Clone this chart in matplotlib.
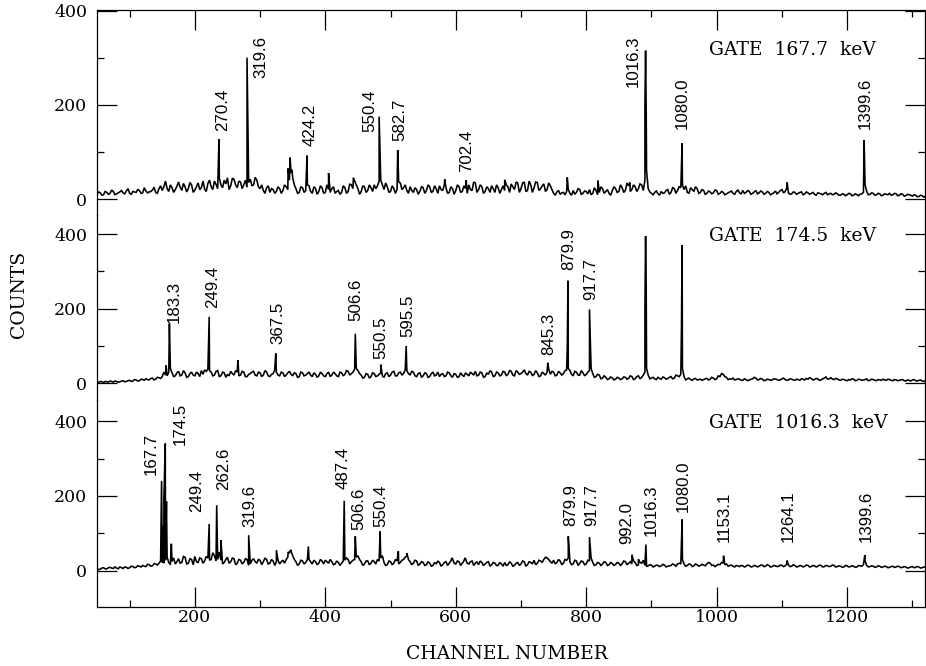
import numpy as np
import matplotlib
matplotlib.use("Agg")
import matplotlib.pyplot as plt
from matplotlib.ticker import FixedLocator

# ---------------- data ----------------
# background counts sampled every 5 channels (50..1320) and the in-between
# channels (52.5..1317.5)
bg_channels = np.arange(50, 1321, 5)
half_channels = np.arange(52.5, 1320, 5)

bg_top = [
    10, 13, 9, 14, 12, 16, 11, 15, 13, 17, 12, 16, 14, 18, 13, 17, 15, 19, 14, 22,
    18, 38, 16, 24, 20, 36, 18, 26, 22, 30, 19, 34, 24, 21, 33, 26, 38, 22, 30, 40,
    45, 28, 42, 24, 36, 30, 25, 42, 30, 40, 22, 18, 24, 14, 20, 16, 22, 18, 26, 40,
    45, 22, 14, 24, 18, 28, 12, 22, 16, 24, 14, 20, 22, 12, 18, 14, 24, 16, 30, 38,
    22, 16, 26, 18, 24, 30, 28, 40, 20, 26, 16, 22, 20, 34, 24, 18, 26, 14, 20, 16,
    24, 18, 26, 16, 22, 28, 18, 24, 14, 22, 18, 26, 16, 22, 30, 18, 34, 20, 26, 16,
    22, 28, 14, 24, 20, 18, 26, 32, 20, 34, 22, 36, 18, 30, 24, 35, 22, 32, 20, 28,
    12, 15, 10, 14, 16, 12, 18, 14, 20, 12, 16, 20, 12, 18, 14, 22, 16, 12, 18, 22,
    16, 24, 18, 28, 20, 26, 22, 30, 40, 22, 12, 14, 11, 16, 13, 20, 14, 22, 18, 24,
    20, 14, 24, 16, 22, 14, 18, 12, 15, 13, 18, 12, 14, 11, 15, 12, 16, 13, 18, 14,
    16, 12, 18, 13, 15, 12, 14, 11, 17, 14, 20, 16, 13, 11, 14, 12, 15, 11, 13, 12,
    10, 13, 11, 12, 9, 12, 10, 11, 8, 10, 9, 11, 8, 9, 10, 14, 16, 10, 12, 9,
    11, 8, 10, 12, 9, 11, 8, 10, 7, 9, 6, 8, 5, 7, 6,
]
bg_top_half = [
    15, 8, 16, 10, 19, 9, 13, 18, 11, 22, 10, 15, 20, 12, 24, 13, 16, 25, 12, 28,
    26, 22, 30, 14, 27, 25, 33, 15, 35, 14, 26, 20, 38, 16, 40, 20, 31, 45, 24, 32,
    20, 44, 30, 38, 22, 40, 35, 28, 46, 26, 30, 12, 28, 22, 12, 26, 12, 30, 20, 55,
    30, 12, 26, 14, 30, 16, 26, 10, 28, 12, 30, 14, 26, 16, 10, 28, 12, 32, 22, 30,
    10, 28, 14, 30, 16, 22, 38, 30, 34, 14, 28, 12, 36, 20, 30, 12, 18, 24, 10, 26,
    12, 30, 14, 28, 12, 20, 30, 12, 26, 10, 30, 14, 28, 12, 20, 36, 14, 30, 12, 26,
    14, 22, 30, 12, 28, 30, 14, 26, 36, 14, 34, 16, 38, 14, 36, 18, 28, 16, 34, 20,
    8, 18, 13, 9, 20, 8, 10, 22, 10, 17, 11, 9, 24, 9, 26, 12, 20, 8, 26, 14,
    30, 14, 34, 16, 30, 16, 32, 18, 60, 15, 9, 17, 8, 12, 18, 10, 24, 12, 26, 30,
    28, 12, 20, 26, 12, 20, 10, 17, 11, 19, 10, 16, 9, 13, 17, 10, 19, 11, 12, 18,
    10, 15, 11, 17, 10, 16, 9, 13, 11, 18, 13, 24, 10, 15, 10, 14, 9, 15, 10, 14,
    8, 12, 9, 14, 11, 9, 13, 8, 11, 7, 12, 7, 11, 7, 11, 30, 9, 13, 8, 12,
    7, 11, 9, 8, 12, 7, 11, 6, 10, 8, 9, 5, 8, 4,
]
bg_mid = [
    3, 5, 2, 4, 6, 3, 5, 4, 7, 5, 8, 6, 9, 7, 10, 12, 9, 14, 11, 15,
    18, 22, 30, 28, 20, 32, 22, 28, 18, 30, 20, 26, 34, 36, 38, 30, 22, 34, 20, 28,
    24, 32, 22, 30, 22, 30, 18, 26, 32, 20, 28, 22, 30, 18, 26, 30, 20, 28, 22, 32,
    20, 26, 18, 28, 22, 30, 18, 24, 20, 26, 18, 30, 22, 26, 18, 28, 24, 32, 26, 38,
    34, 22, 16, 24, 18, 26, 20, 28, 16, 28, 22, 32, 20, 30, 26, 34, 22, 30, 18, 28,
    20, 26, 18, 30, 22, 18, 26, 20, 28, 16, 24, 18, 22, 28, 20, 26, 32, 22, 28, 18,
    24, 30, 20, 28, 22, 30, 24, 32, 20, 30, 26, 36, 22, 30, 24, 28, 20, 26, 30, 24,
    30, 22, 28, 26, 36, 34, 20, 30, 22, 28, 24, 34, 26, 18, 22, 14, 16, 12, 14, 11,
    14, 12, 16, 13, 18, 12, 20, 16, 30, 22, 14, 12, 16, 11, 15, 13, 18, 14, 20, 24,
    18, 12, 10, 12, 9, 11, 10, 13, 11, 14, 12, 18, 24, 16, 12, 14, 10, 11, 8, 10,
    9, 12, 14, 10, 11, 8, 10, 9, 11, 8, 12, 10, 9, 11, 8, 10, 12, 9, 11, 13,
    10, 12, 9, 14, 11, 15, 10, 12, 8, 10, 7, 9, 11, 8, 10, 9, 12, 8, 10, 7,
    9, 11, 8, 10, 7, 9, 8, 10, 6, 8, 9, 7, 8, 6, 7,
]
bg_mid_half = [
    2, 4, 5, 3, 5, 6, 3, 6, 4, 7, 5, 10, 6, 11, 8, 10, 13, 9, 16, 13,
    30, 20, 40, 18, 28, 20, 34, 16, 26, 22, 30, 18, 24, 32, 34, 20, 32, 18, 30, 16,
    20, 26, 34, 20, 32, 18, 24, 30, 22, 30, 18, 34, 20, 24, 36, 22, 30, 18, 28, 24,
    28, 16, 30, 20, 26, 22, 28, 16, 30, 20, 26, 18, 30, 20, 30, 20, 34, 22, 30, 40,
    26, 14, 26, 14, 28, 18, 24, 20, 26, 18, 30, 20, 28, 22, 36, 26, 32, 20, 26, 16,
    28, 16, 26, 20, 30, 24, 18, 30, 20, 26, 16, 28, 18, 24, 30, 22, 20, 30, 16, 28,
    34, 18, 30, 20, 32, 20, 34, 22, 34, 24, 30, 26, 32, 20, 34, 18, 30, 22, 38, 32,
    20, 32, 22, 34, 40, 24, 32, 22, 34, 20, 30, 40, 16, 24, 12, 20, 10, 17, 9, 16,
    10, 17, 11, 20, 10, 18, 12, 22, 40, 12, 16, 10, 13, 17, 11, 16, 12, 22, 18, 40,
    9, 14, 8, 13, 10, 8, 12, 9, 16, 10, 20, 26, 18, 10, 11, 9, 12, 8, 12, 7,
    11, 16, 9, 13, 7, 11, 8, 12, 10, 9, 14, 8, 12, 9, 11, 8, 11, 13, 15, 9,
    13, 8, 12, 17, 12, 11, 13, 9, 11, 8, 10, 12, 7, 11, 8, 10, 7, 11, 8, 10,
    8, 9, 11, 8, 10, 7, 9, 7, 9, 6, 10, 6, 9, 5,
]
bg_bot = [
    6, 4, 8, 5, 9, 6, 7, 10, 6, 9, 8, 11, 9, 12, 14, 11, 16, 13, 18, 20,
    22, 28, 22, 25, 18, 32, 22, 36, 20, 30, 38, 22, 32, 26, 34, 30, 40, 30, 28, 22,
    36, 24, 32, 20, 28, 22, 30, 18, 32, 20, 28, 24, 30, 20, 26, 24, 18, 28, 30, 48,
    40, 24, 18, 26, 22, 30, 18, 24, 20, 26, 28, 20, 24, 18, 22, 20, 28, 30, 24, 30,
    40, 24, 18, 26, 20, 24, 30, 34, 22, 16, 24, 20, 26, 22, 30, 40, 24, 20, 26, 18,
    22, 16, 20, 14, 18, 22, 16, 24, 20, 32, 18, 24, 20, 32, 18, 26, 20, 16, 22, 18,
    24, 16, 20, 14, 18, 22, 16, 20, 14, 22, 18, 24, 16, 22, 28, 20, 26, 30, 34, 24,
    28, 22, 26, 20, 28, 24, 18, 26, 20, 24, 18, 26, 22, 16, 20, 18, 22, 16, 19, 17,
    20, 18, 24, 20, 18, 22, 16, 20, 14, 13, 15, 12, 14, 13, 15, 12, 14, 16, 18, 18,
    18, 14, 17, 13, 16, 14, 15, 18, 20, 15, 14, 16, 20, 18, 14, 12, 14, 11, 13, 12,
    14, 11, 13, 12, 15, 12, 14, 11, 13, 12, 14, 13, 15, 12, 14, 11, 13, 12, 14, 11,
    13, 12, 14, 11, 13, 12, 14, 11, 12, 10, 13, 11, 12, 10, 13, 16, 14, 11, 12, 10,
    12, 10, 11, 9, 12, 10, 11, 9, 10, 8, 11, 9, 10, 8, 9,
]
bg_bot_half = [
    3, 7, 5, 8, 7, 10, 5, 8, 10, 6, 12, 8, 13, 10, 12, 17, 12, 19, 15, 26,
    20, 36, 16, 34, 24, 20, 38, 18, 32, 16, 24, 34, 20, 38, 28, 48, 26, 50, 18, 30,
    20, 34, 16, 30, 18, 32, 14, 28, 24, 30, 16, 34, 18, 30, 14, 28, 24, 20, 36, 52,
    30, 14, 28, 18, 30, 24, 28, 16, 30, 18, 24, 30, 16, 26, 14, 26, 34, 18, 28, 36,
    30, 14, 26, 16, 28, 18, 26, 40, 14, 26, 16, 30, 18, 28, 36, 30, 16, 28, 14, 24,
    14, 24, 12, 22, 26, 12, 22, 14, 26, 20, 26, 14, 26, 20, 24, 14, 24, 26, 14, 22,
    12, 22, 14, 22, 12, 14, 24, 12, 20, 14, 26, 12, 24, 18, 16, 28, 22, 36, 30, 20,
    18, 30, 16, 30, 34, 16, 28, 14, 26, 16, 28, 34, 14, 22, 14, 24, 14, 22, 14, 22,
    14, 26, 16, 24, 26, 14, 22, 28, 11, 16, 10, 15, 11, 17, 10, 13, 18, 12, 20, 30,
    12, 18, 11, 18, 12, 17, 13, 22, 14, 11, 17, 22, 16, 12, 15, 10, 13, 14, 10, 15,
    10, 14, 10, 15, 11, 16, 10, 14, 11, 15, 11, 18, 11, 16, 10, 14, 10, 15, 10, 14,
    10, 15, 10, 14, 11, 15, 10, 13, 9, 14, 10, 13, 9, 14, 12, 26, 10, 13, 9, 13,
    9, 12, 8, 11, 9, 12, 8, 11, 7, 10, 8, 11, 7, 10,
]

# peak channels and heights
pk_top_ch = [237, 280, 343, 346, 349, 372, 405, 443, 482.5, 511, 583, 616, 675,
             771, 818, 867, 890, 891, 892, 947, 1108, 1226]
pk_top_h = [127, 300, 65, 88, 62, 92, 55, 45, 175, 104, 42, 40, 41,
            46, 39, 35, 200, 315, 180, 118, 35, 125]

pk_mid_ch = [156, 161, 222, 266, 324, 446, 485, 524, 741, 771, 772, 805,
             890, 891, 892, 946, 947]
pk_mid_h = [48, 160, 178, 62, 80, 133, 50, 100, 55, 100, 275, 198,
            200, 395, 250, 150, 370]

pk_bot_ch = [149, 151, 152.5, 154.7, 156.5, 164, 222, 233.5, 240, 282.5, 325,
             343, 347, 374, 429, 446, 484, 512, 525, 594, 614, 772.5, 805, 870,
             880, 891.5, 947, 1010.5, 1108, 1227]
pk_bot_h = [240, 120, 190, 340, 185, 72, 125, 175, 82, 95, 55,
            50, 56, 65, 187, 92, 105, 52, 47, 34, 34, 92, 90, 43,
            31, 70, 137, 40, 27, 42]

# peak labels (keV)
lab_top = ["270.4", "319.6", "424.2", "550.4", "582.7", "702.4", "1016.3", "1080.0", "1399.6"]
lab_mid = ["183.3", "249.4", "367.5", "506.6", "550.5", "595.5", "845.3", "879.9", "917.7"]
lab_bot = ["167.7", "174.5", "249.4", "262.6", "319.6", "487.4", "506.6", "550.4", "879.9",
           "917.7", "992.0", "1016.3", "1080.0", "1153.1", "1264.1", "1399.6"]
gate_labels = ["GATE  167.7  keV", "GATE  174.5  keV", "GATE  1016.3  keV"]

# label anchor positions (channel, counts at text start)
lab_top_pos = [(242, 145), (302, 256), (376.5, 112), (468, 143), (514.5, 123),
               (616.5, 58), (872, 238), (947, 148), (1227, 148)]
lab_mid_pos = [(168, 163), (227, 203), (326.7, 106), (446.7, 168), (485, 66),
               (526, 125), (743, 75), (773, 303), (806.6, 223)]
lab_bot_pos = [(133.7, 256), (177, 336), (203, 158), (243.6, 216), (283.8, 118),
               (427.6, 218), (451.4, 109), (485, 118), (776, 120), (808.6, 120),
               (862, 71), (900, 92), (948, 158), (1011, 76), (1110, 76), (1228.6, 76)]

y_ticks = [0, 200, 400]
y_minor = [100, 300]
x_ticks = [200, 400, 600, 800, 1000, 1200]
x_minor = [100, 300, 500, 700, 900, 1100, 1300]

# ---------------- figure ----------------
W, H = 926, 666
fig = plt.figure(figsize=(W / 100, H / 100), dpi=100)
LEFT, RIGHT = 97, 925
XSCALE = 0.6523
XMIN = 50
XMAX = XMIN + (RIGHT - LEFT) / XSCALE

serif = "DejaVu Serif"
sans = "Liberation Sans"


def add_panel(top_px, bot_px, zero_px, scale):
    ax = fig.add_axes([LEFT / W, 1 - bot_px / H, (RIGHT - LEFT) / W, (bot_px - top_px) / H])
    ax.set_xlim(XMIN, XMAX)
    ax.set_ylim((zero_px - bot_px) / scale, (zero_px - top_px) / scale)
    ax.patch.set_alpha(0)
    for s in ax.spines.values():
        s.set_linewidth(0.9)
    ax.yaxis.set_major_locator(FixedLocator(y_ticks))
    ax.yaxis.set_minor_locator(FixedLocator(y_minor))
    ax.xaxis.set_major_locator(FixedLocator(x_ticks))
    ax.xaxis.set_minor_locator(FixedLocator(x_minor))
    ax.tick_params(axis="y", which="both", direction="in", left=True, right=True,
                   labelleft=True, labelright=False, width=0.9, pad=7,
                   labelsize=12.5)
    ax.tick_params(which="major", length=14.4)
    ax.tick_params(which="minor", length=5)
    for t in ax.get_yticklabels():
        t.set_family(serif)
    return ax


ax1 = add_panel(10.3, 215, 199, (199 - 10.3) / 400.6)
ax2 = add_panel(215, 400, 383.3, 0.373)
ax3 = add_panel(400, 606.7, 570.7, 0.374)

ax1.spines["bottom"].set_visible(False)
ax1.tick_params(axis="x", which="both", direction="in", bottom=False, top=True,
                labelbottom=False, width=0.9)
ax2.spines["bottom"].set_visible(False)
ax2.spines["top"].set_visible(False)
ax2.tick_params(axis="x", which="both", bottom=False, top=False, labelbottom=False)
ax3.spines["top"].set_visible(False)
ax3.tick_params(axis="x", which="both", direction="in", bottom=True, top=False,
                labelbottom=True, width=0.9, pad=2, labelsize=12.5)
for t in ax3.get_xticklabels():
    t.set_family(serif)


def draw(ax, bg, bg_half, pch, ph, labels, pos):
    x = np.concatenate([bg_channels, half_channels, np.asarray(pch, float)])
    y = np.concatenate([np.asarray(bg, float), np.asarray(bg_half, float),
                        np.asarray(ph, float)])
    order = np.argsort(x, kind="stable")
    ax.plot(x[order], y[order], color="black", lw=1.15, solid_joinstyle="miter")
    for lab, (cx, cy) in zip(labels, pos):
        ax.text(cx, cy, lab, rotation=90, ha="center", va="bottom",
                family=sans, fontsize=12.2, clip_on=False)


draw(ax1, bg_top, bg_top_half, pk_top_ch, pk_top_h, lab_top, lab_top_pos)
draw(ax2, bg_mid, bg_mid_half, pk_mid_ch, pk_mid_h, lab_mid, lab_mid_pos)
draw(ax3, bg_bot, bg_bot_half, pk_bot_ch, pk_bot_h, lab_bot, lab_bot_pos)

ax1.text(988, 317, gate_labels[0], ha="left", va="center", family=serif, fontsize=13.5)
ax2.text(988, 396, gate_labels[1], ha="left", va="center", family=serif, fontsize=13.5)
ax3.text(988, 396, gate_labels[2], ha="left", va="center", family=serif, fontsize=13.5)

fig.text(507 / W, 1 - 654 / H, "CHANNEL NUMBER", ha="center", va="center",
         family=serif, fontsize=13.5)
fig.text(19.5 / W, 1 - 294 / H, "COUNTS", ha="center", va="center", rotation=90,
         family=serif, fontsize=13.5)

fig.savefig("out.png", dpi=100, facecolor="white")
